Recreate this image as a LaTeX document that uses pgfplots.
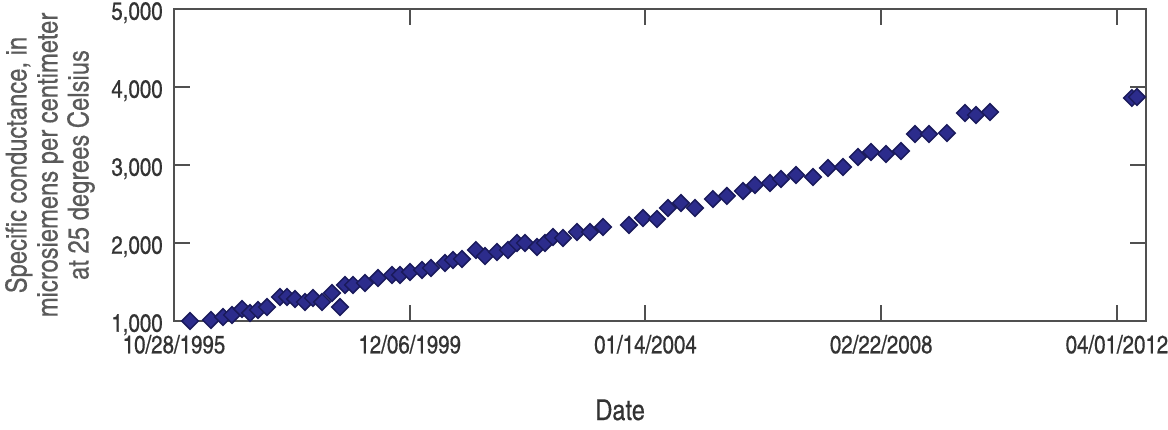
\documentclass[border=0pt]{standalone}
\usepackage{pgfplots}
\pgfplotsset{compat=1.18}
\usepackage{pgfplotstable}
\usepackage{fontspec}
\setmainfont{texgyreheroscn-regular.otf}
\newfontfamily\tickfont[FakeBold=0.5]{texgyreheroscn-regular.otf}
\newfontfamily\labfont[FakeBold=0.3]{texgyreheroscn-regular.otf}

\definecolor{markfill}{HTML}{2C2C8C}
\definecolor{markedge}{HTML}{1A1A5C}
\definecolor{axisgray}{HTML}{505050}
\definecolor{labelgray}{HTML}{5A5A5A}
\definecolor{tickgray}{HTML}{333333}

% days since 10/28/1995, specific conductance (uS/cm at 25 C)
\pgfplotstableread{
day   sc
102   1000
235   1013
312   1051
369   1077
433   1154
484   1103
534   1141
592   1179
674   1308
719   1308
770   1282
833   1244
884   1295
942   1244
1005  1359
1056  1179
1088  1462
1139  1462
1215  1487
1298  1551
1387  1590
1438  1590
1502  1628
1578  1654
1635  1680
1724  1744
1775  1782
1832  1795
1921  1910
1979  1833
2055  1885
2125  1910
2182  2000
2233  2000
2310  1949
2360  2000
2411  2077
2475  2064
2564  2141
2647  2141
2730  2205
2895  2231
2984  2320
3073  2308
3143  2449
3226  2513
3315  2449
3429  2564
3518  2603
3620  2667
3697  2744
3792  2769
3862  2821
3958  2872
4066  2846
4161  2962
4257  2974
4352  3103
4435  3167
4530  3141
4626  3179
4715  3397
4804  3397
4918  3410
5033  3667
5103  3641
5192  3679
6095  3859
6127  3872
}\sctable

\begin{document}
\begin{tikzpicture}[x=1pt,y=1pt]
\path[use as bounding box] (-69.6pt,-43.2pt) rectangle (397.6pt,128.4pt);
\begin{axis}[
    at={(0pt,0pt)}, anchor=south west,
    scale only axis,
    width=388.8pt, height=124.8pt,
    xmin=0, xmax=6185,
    ymin=1000, ymax=5000,
    xtick={0,1500,3000,4500,6000},
    xticklabels={10/28/1995,12/06/1999,01/14/2004,02/22/2008,04/01/2012},
    ytick={1000,2000,3000,4000,5000},
    scaled y ticks=false,
    /pgf/number format/assume math mode=true,
    /pgf/number format/1000 sep={,},
    tick align=inside,
    major tick length=6.5pt,
    tick style={axisgray, line width=0.8pt},
    axis line style={axisgray, line width=0.8pt},
    ticklabel style={font=\tickfont\fontsize{10}{12}\selectfont, text=tickgray},
    xticklabel style={yshift=-2pt},
    yticklabel style={xshift=-1pt, yshift=-1.5pt},
    xlabel={Date},
    xlabel style={font=\labfont\fontsize{11.5}{13}\selectfont, text=tickgray,
        at={(axis description cs:0.459,-0.285)}, anchor=center},
    ylabel={Specific conductance, in\\microsiemens per centimeter\\at 25 degrees Celsius},
    ylabel style={font=\labfont\fontsize{11.6}{12.4}\selectfont, text=labelgray, align=center,
        at={(axis description cs:-0.1276,0.5)}, anchor=center},
    clip=false,
]
\addplot[only marks, mark=square*, mark size=2.35pt,
    mark options={rotate=45, fill=markfill, draw=markedge, line width=0.6pt}]
    table[x=day, y=sc] {\sctable};
\end{axis}
\end{tikzpicture}
\end{document}
